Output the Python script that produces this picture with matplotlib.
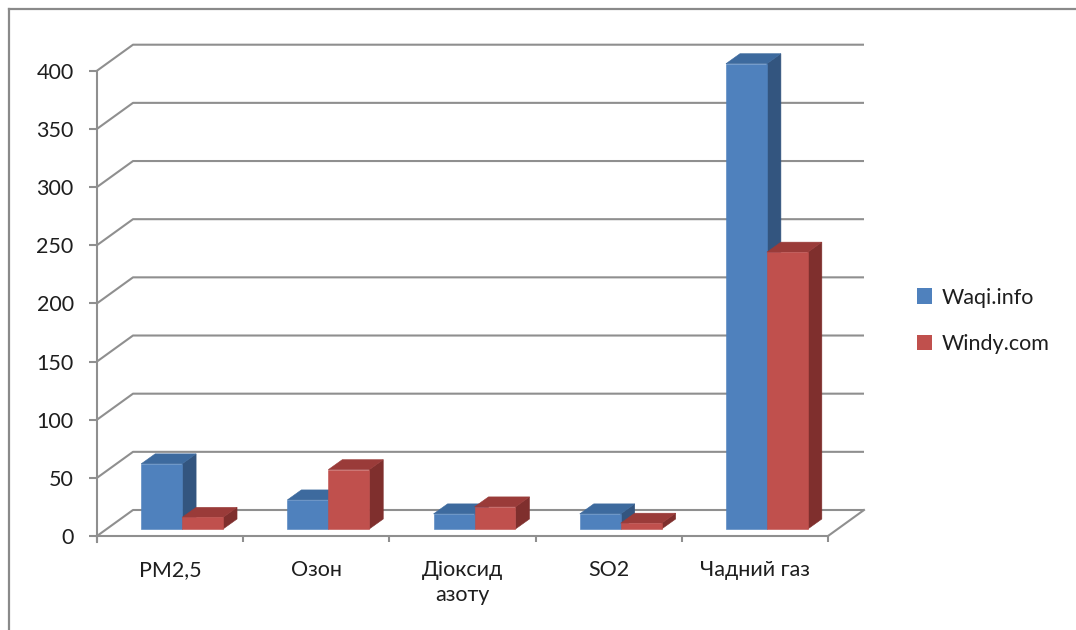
import matplotlib
matplotlib.use("Agg")
import matplotlib.pyplot as plt
from matplotlib.patches import Polygon, Patch
from matplotlib.lines import Line2D

# ---- data -------------------------------------------------------------
categories = ["PM2,5", "Озон", "Діоксид\nазоту", "SO2", "Чадний газ"]
series_names = ["Waqi.info", "Windy.com"]
waqi = [56, 25, 13, 13, 400]
windy = [10, 51, 19, 5, 238]
y_ticks = [0, 50, 100, 150, 200, 250, 300, 350, 400]

# ---- style ------------------------------------------------------------
plt.rcParams["font.family"] = ["Lato", "DejaVu Sans"]
GRID = "#8f8f8f"
TEXT = "#1e1e1e"
FS = 15.5
face_colors = [
    # front, side, top
    ("#4f81bd", "#33557f", "#3d6a9e"),
    ("#c0504d", "#7f2f2d", "#9a3b39"),
]

W, H = 1076, 630
fig = plt.figure(figsize=(W / 100, H / 100), dpi=100)
fig.patch.set_facecolor("white")

# front plane of the 3-D box, in pixels
x_left, x_right = 97, 828
y_zero, y_top = 536, 70.7
ax = fig.add_axes([x_left / W, (H - y_zero) / H,
                   (x_right - x_left) / W, (y_zero - y_top) / H])
n = len(categories)
ax.set_xlim(0, n)
ax.set_ylim(0, y_ticks[-1])
ax.set_facecolor("none")

# pixel -> data conversions
px_x = n / (x_right - x_left)
px_y = y_ticks[-1] / (y_zero - y_top)

# depth offsets (pixels): back wall, bar front, bar thickness
DX, DY = 36, 26
FX, FY = 12, 7
BX, BY = 14, 10

# back wall gridlines with their diagonal joins to the front axis
for v in y_ticks:
    ax.plot([0, DX * px_x, n + DX * px_x],
            [v, v + DY * px_y, v + DY * px_y],
            color=GRID, lw=1.5, clip_on=False, zorder=1,
            solid_capstyle="butt")
# right edge of the floor
ax.plot([n, n + DX * px_x], [0, DY * px_y], color=GRID, lw=1.5,
        clip_on=False, zorder=1)

# ---- 3-D columns ------------------------------------------------------
bar_w = 0.28
fx, fy = FX * px_x, FY * px_y
bx, by = BX * px_x, BY * px_y
z = 3
for i in range(n):
    for s, vals in enumerate([waqi, windy]):
        h = vals[i]
        x0 = i + 0.5 - bar_w + s * bar_w + fx
        x1 = x0 + bar_w
        front, side, top = face_colors[s]
        ax.add_patch(Polygon([(x1, fy), (x1 + bx, fy + by),
                              (x1 + bx, fy + h + by), (x1, fy + h)],
                             closed=True, facecolor=side, edgecolor=side,
                             lw=0.4, zorder=z, clip_on=False))
        ax.add_patch(Polygon([(x0, fy + h), (x1, fy + h),
                              (x1 + bx, fy + h + by), (x0 + bx, fy + h + by)],
                             closed=True, facecolor=top, edgecolor=top,
                             lw=0.4, zorder=z, clip_on=False))
        ax.bar(x0, h, width=bar_w, bottom=fy, align="edge",
               color=front, edgecolor=front, lw=0.4, zorder=z + 0.5,
               clip_on=False)
        z += 1

# ---- axes, ticks, labels ---------------------------------------------
for side in ("top", "right"):
    ax.spines[side].set_visible(False)
for side in ("left", "bottom"):
    ax.spines[side].set_color(GRID)
    ax.spines[side].set_linewidth(1.5)
ax.spines["left"].set_bounds(-6 * px_y, y_ticks[-1])
ax.spines["bottom"].set_bounds(0, n)

ax.set_yticks(y_ticks)
ax.tick_params(axis="y", length=5.8, width=1.5, color=GRID, pad=11,
               labelsize=FS, labelcolor=TEXT)
ax.set_xticks(range(n + 1))
ax.set_xticklabels([""] * (n + 1))
ax.tick_params(axis="x", which="major", length=4.3, width=1.5,
               color=GRID, direction="out")
ax.set_xticks([i + 0.5 for i in range(n)], minor=True)
ax.set_xticklabels(categories, minor=True)
ax.tick_params(axis="x", which="minor", length=0, pad=17,
               labelsize=FS, labelcolor=TEXT)
for lab in ax.get_xticklabels(minor=True):
    lab.set_linespacing(1.35)

# ---- legend -----------------------------------------------------------
handles = [Patch(facecolor=face_colors[k][0], edgecolor="none")
           for k in range(2)]
fig.legend(handles, series_names, loc="center left",
           bbox_to_anchor=(898 / W, 1 - 321 / H), frameon=False,
           fontsize=FS, handlelength=0.7, handleheight=0.7,
           handletextpad=0.45, labelspacing=1.25, labelcolor=TEXT)

# ---- chart border (top and left edges) --------------------------------
fig.add_artist(Line2D([9 / W, 1], [1 - 9 / H, 1 - 9 / H],
                      transform=fig.transFigure, color="#8a8a8a", lw=1.6))
fig.add_artist(Line2D([9 / W, 9 / W], [0, 1 - 9 / H],
                      transform=fig.transFigure, color="#8a8a8a", lw=1.6))

fig.savefig("out.png", dpi=100)
